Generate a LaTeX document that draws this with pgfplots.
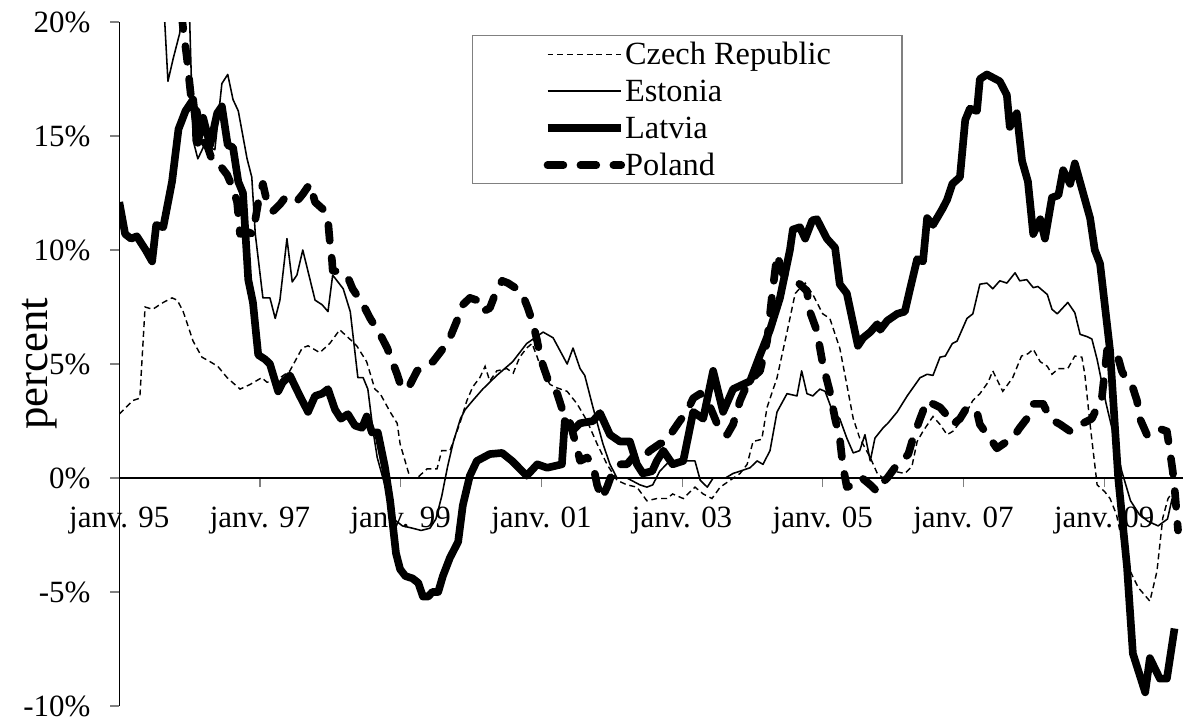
\documentclass[border=0pt]{standalone}
\usepackage{fontspec}
\setmainfont{Liberation Serif}
\usepackage{pgfplots}
\pgfplotsset{compat=1.18}
\begin{document}
\begin{tikzpicture}
\useasboundingbox (0,0) rectangle (420pt,254.4pt);
\begin{axis}[
  at={(42.03pt,5.64pt)}, anchor=south west,
  scale only axis, width=374.8pt, height=241pt,
  xmin=0, xmax=181.45, ymin=-10, ymax=20,
  axis x line=middle, axis y line=left,
  axis line style={-, black, line width=0.4pt},
  hide obscured x ticks=false,
  hide obscured y ticks=false,
  xtick={0,24,...,168},
  xticklabels={janv. 95,janv. 97,janv. 99,janv. 01,janv. 03,janv. 05,janv. 07,janv. 09},
  ytick={-10,-5,...,20},
  yticklabel={\pgfmathprintnumber{\tick}\%},
  /pgf/number format/assume math mode=true,
  tick align=outside,
  major tick length=3.2pt,
  tick style={gray, line width=0.4pt},
  tick label style={font=\fontsize{10.9pt}{13pt}\selectfont},
  xticklabel style={anchor=north, inner sep=0pt, yshift=-6.8pt},
  yticklabel style={anchor=east, inner sep=0pt, xshift=-6.8pt},
  ylabel={percent},
  every axis y label/.style={at={(axis description cs:-0.0745,0.5)}, rotate=90, anchor=center, font=\fontsize{15.8pt}{18pt}\selectfont},
  legend style={at={(axis description cs:0.3316,0.981)}, anchor=north west, draw=gray, fill=white, line width=0.5pt, inner xsep=25pt, inner ysep=0pt, font=\fontsize{11.4pt}{13pt}\selectfont, row sep=0pt, nodes={inner sep=0pt, text height=10.22pt, text depth=2.82pt}},
  legend cell align=left,
  legend image code/.code={\draw[#1] (0pt,0pt) -- (26pt,0pt);},
]
\addplot[black, line width=0.5pt, dash pattern=on 2.1pt off 1.35pt] coordinates {
(0,2.8)(2.3,3.4)(3.5,3.5)(4.4,7.5)(5.7,7.4)(7.5,7.7)(9.0,7.9)(9.9,7.8)(10.9,7.3)(12.6,6.0)(14.1,5.3)(15.5,5.1)(16.8,4.9)(18.4,4.4)(20.6,3.9)(22.3,4.1)(24.3,4.4)(25.2,4.2)(26.9,4.3)(29.1,4.7)(31.2,5.7)(32.2,5.8)(34.2,5.5)(35.9,5.9)(37.6,6.5)(39.3,6.1)(40.5,5.8)(42.2,5.1)(43.6,3.9)(44.5,3.7)(46.2,2.9)(47.4,2.4)(47.9,1.5)(49.6,0.0)(50.8,0.0)(52.5,0.4)(54.2,0.4)(55.0,1.2)(56.4,1.2)(58.1,2.4)(59.3,3.4)(60.3,4.0)(61.5,4.4)(62.4,4.9)(63.2,4.25)(64.4,4.7)(66.1,4.8)(67.2,4.6)(68.3,5.3)(69.5,5.7)(70.4,5.9)(71.3,5.3)(72.3,4.55)(73.5,4.1)(74.7,3.95)(76.4,3.8)(78.1,3.25)(79.8,2.5)(81.5,1.5)(83.2,0.6)(84.9,-0.1)(86.6,-0.3)(88.3,-0.4)(90.0,-1.0)(91.7,-0.9)(93.4,-0.9)(94.4,-0.7)(96.2,-0.9)(98.2,-0.4)(99.6,-0.7)(101.1,-0.9)(102.5,-0.4)(104.2,-0.1)(105.9,0.2)(107.1,0.6)(108.1,1.6)(109.6,1.7)(110.5,3.1)(112.2,4.4)(113.9,6.4)(115.3,8.1)(117.0,8.55)(118.3,8.05)(120.0,7.2)(121.2,7.0)(122.9,5.7)(124.1,4.1)(125.2,2.6)(126.3,1.75)(128.1,0.9)(129.3,0.2)(130.3,0.0)(132.0,0.3)(134.0,0.2)(135.2,0.5)(136.1,1.6)(137.1,2.05)(138.8,2.7)(140.0,2.35)(141.2,1.9)(142.2,2.05)(143.9,2.6)(145.6,3.4)(146.8,3.7)(148.2,4.2)(149.0,4.7)(150.7,3.8)(152.4,4.4)(153.9,5.35)(155.0,5.45)(155.9,5.65)(157.1,5.1)(158.3,4.9)(159.1,4.55)(160.2,4.8)(161.8,4.8)(163.0,5.35)(164.2,5.3)(164.7,4.55)(165.6,2.35)(166.8,-0.3)(168.1,-0.6)(169.0,-0.9)(170.1,-1.6)(171.9,-3.8)(173.8,-4.8)(175.8,-5.4)(177.0,-4.1)(178.0,-1.75)(178.9,-0.9)(179.7,-0.6)
};
\addlegendentry{Czech Republic}
\addplot[black, line width=0.55pt, line join=round] coordinates {
(0,30)(3,28)(6.5,26)(8.3,17.4)(9.2,18.4)(10.3,19.5)(11.2,21.5)(11.9,21.0)(12.6,14.8)(13.4,14.0)(14.5,14.6)(16.3,14.4)(17.5,17.3)(18.5,17.7)(19.4,16.6)(20.3,16.1)(21.8,14.0)(22.6,13.2)(23.2,10.7)(24.5,7.9)(25.7,7.9)(26.6,7.0)(27.4,7.8)(28.6,10.5)(29.5,8.6)(30.3,8.9)(31.3,10.0)(33.4,7.8)(34.6,7.6)(35.6,7.3)(36.4,8.9)(38.2,8.3)(39.4,7.3)(40.7,4.4)(41.6,4.4)(42.4,3.9)(43.3,2.05)(44.0,0.9)(45.5,-0.5)(46.8,-1.8)(48.3,-2.1)(50.0,-2.2)(51.5,-2.3)(53.0,-2.2)(54.0,-1.8)(55.0,-0.8)(56.0,0.5)(57.0,1.6)(58.2,2.6)(59.0,3.0)(60.3,3.4)(62.0,3.9)(64.4,4.5)(67.1,5.1)(69.5,5.9)(72.3,6.4)(74.0,6.15)(76.4,5.0)(77.4,5.7)(78.6,4.8)(79.4,4.5)(80.8,3.1)(82.5,1.5)(83.7,0.6)(84.9,0.0)(86.6,0.0)(88.8,-0.3)(90.0,-0.4)(91.0,-0.3)(92.2,0.3)(93.9,0.75)(95.6,0.75)(98.2,0.75)(99.1,-0.1)(100.3,-0.4)(101.3,0.0)(103.4,0.0)(104.7,0.2)(105.9,0.3)(107.6,0.45)(108.8,0.75)(109.8,0.6)(111.0,1.2)(112.2,2.9)(113.9,3.7)(115.6,3.6)(116.4,4.7)(117.3,3.7)(118.3,3.6)(119.5,3.9)(120.4,3.8)(121.7,2.9)(122.9,2.6)(124.1,1.75)(125.2,1.1)(126.3,1.2)(127.2,1.9)(128.1,0.75)(128.9,1.75)(130.3,2.2)(131.1,2.4)(132.7,2.9)(134.4,3.6)(136.6,4.4)(137.8,4.55)(138.8,4.5)(140.0,5.3)(140.9,5.35)(142.1,5.9)(142.9,6.0)(144.6,7.0)(145.6,7.2)(146.8,8.5)(148.0,8.55)(149.0,8.3)(150.2,8.65)(151.4,8.55)(152.8,9.0)(153.6,8.65)(154.8,8.7)(155.9,8.35)(156.7,8.4)(158.3,8.05)(159.1,7.4)(160.0,7.2)(161.8,7.7)(163.0,7.25)(163.9,6.3)(165.1,6.2)(165.9,6.1)(166.8,5.2)(168.3,3.3)(169.5,2.0)(171.0,0.3)(172.5,-1.0)(174.0,-1.6)(175.5,-1.9)(177.2,-2.1)(178.8,-1.8)(179.6,-0.9)
};
\addlegendentry{Estonia}
\addplot[black, line width=2.7pt, line join=round] coordinates {
(0,12.1)(1.0,10.7)(2.0,10.5)(3.0,10.6)(4.5,10.0)(5.6,9.5)(6.3,11.1)(7.5,11.0)(9.0,13.0)(10.1,15.3)(11.3,16.1)(12.6,16.6)(13.4,14.7)(14.3,15.8)(15.5,14.6)(16.7,16.0)(17.5,16.3)(18.5,14.6)(19.4,14.5)(20.3,13.0)(21.1,12.5)(22.0,8.7)(22.8,7.7)(23.7,5.4)(24.9,5.2)(25.7,5.0)(27.1,3.8)(27.9,4.2)(29.1,4.5)(30.8,3.6)(32.2,2.9)(33.4,3.6)(34.6,3.7)(35.6,3.9)(36.8,3.0)(37.8,2.6)(39.0,2.8)(40.2,2.3)(41.4,2.2)(42.2,2.7)(43.1,2.0)(44.1,2.0)(45.3,0.5)(46.2,-1.0)(47.2,-3.3)(47.9,-4.0)(48.8,-4.3)(50.0,-4.4)(51.0,-4.6)(51.8,-5.2)(52.7,-5.2)(53.4,-5.0)(54.4,-5.0)(55.2,-4.3)(56.4,-3.5)(57.8,-2.8)(58.6,-1.2)(59.8,0.1)(61.0,0.75)(63.2,1.05)(65.3,1.1)(67.0,0.75)(69.5,0.1)(71.3,0.6)(73.0,0.45)(75.5,0.6)(76.0,2.5)(77.4,2.1)(78.6,2.4)(80.8,2.5)(82.0,2.85)(83.7,1.9)(85.4,1.6)(87.1,1.6)(88.3,0.6)(89.3,0.2)(90.9,0.3)(91.7,0.75)(92.8,1.2)(94.4,0.6)(96.2,0.75)(97.9,2.9)(99.6,2.6)(101.3,4.7)(103.0,2.9)(104.7,3.9)(107.6,4.25)(109.3,5.4)(111.0,6.5)(112.7,7.9)(114.4,10.0)(114.9,10.9)(116.1,11.0)(117.0,10.5)(118.2,11.3)(119.0,11.35)(120.7,10.5)(122.1,10.1)(122.9,8.5)(124.1,8.1)(126.0,5.8)(126.9,6.15)(128.1,6.4)(129.3,6.75)(129.8,6.5)(131.0,6.9)(132.7,7.2)(134.0,7.3)(134.9,8.3)(136.1,9.6)(137.1,9.5)(137.8,11.4)(138.8,11.1)(140.4,11.8)(141.2,12.2)(142.1,12.9)(143.4,13.2)(144.3,15.7)(145.1,16.2)(146.3,16.1)(146.8,17.5)(148.0,17.7)(150.2,17.4)(151.4,16.8)(151.9,15.4)(153.1,16.0)(154.0,13.9)(155.0,13.0)(155.9,10.7)(157.1,11.35)(157.9,10.5)(159.1,12.3)(160.2,12.4)(161.0,13.5)(162.2,12.9)(163.0,13.8)(165.6,11.4)(166.4,10.0)(167.3,9.4)(169.0,5.6)(170.4,0.0)(171.9,-3.9)(172.9,-7.7)(175.0,-9.4)(175.8,-7.9)(177.5,-8.8)(178.7,-8.8)(180.0,-6.6)
};
\addlegendentry{Latvia}
\addplot[black, line width=2.7pt, dash pattern=on 5.6pt off 6pt, line cap=round, line join=round] coordinates {
(0,33)(5,30)(9.5,23)(10.9,19.7)(11.5,18.5)(12.2,16.8)(13.2,16.1)(14.3,14.8)(15.1,14.5)(16.0,13.8)(17.5,13.6)(18.4,13.3)(19.4,12.7)(20.1,12.1)(20.6,10.7)(21.8,10.8)(22.8,10.7)(23.7,12.1)(24.5,12.9)(25.2,12.1)(26.2,11.7)(27.4,12.0)(28.3,12.3)(29.5,12.1)(30.5,12.2)(31.3,12.45)(32.5,12.9)(33.4,12.1)(34.7,11.8)(35.6,11.3)(35.9,10.4)(36.3,9.5)(36.4,9.1)(38.2,9.0)(39.0,8.8)(39.8,8.3)(41.6,7.6)(42.8,7.0)(44.5,6.3)(45.7,5.7)(47.4,4.55)(48.2,3.9)(49.6,4.1)(50.8,4.7)(52.5,5.0)(53.5,5.1)(55.0,5.6)(56.4,6.15)(57.6,6.9)(58.6,7.6)(59.8,7.9)(61.0,7.8)(62.0,7.3)(63.2,7.45)(64.1,8.05)(65.3,8.65)(66.3,8.55)(67.5,8.35)(68.7,8.1)(69.7,7.45)(70.6,6.75)(71.3,6.0)(71.8,5.3)(73.0,4.4)(73.5,4.1)(74.7,3.7)(75.7,2.9)(76.9,2.4)(78.1,1.3)(78.6,0.75)(79.8,0.9)(80.8,0.6)(81.5,-0.3)(82.3,-0.9)(83.2,-0.4)(84.2,0.3)(85.4,0.6)(86.6,0.6)(87.6,0.9)(89.3,0.9)(90.5,1.2)(92.2,1.5)(93.4,1.6)(94.4,2.05)(95.6,2.5)(96.8,2.9)(97.9,3.5)(99.1,3.7)(100.3,3.4)(101.3,2.8)(102.5,2.05)(103.7,1.9)(104.7,2.35)(105.9,3.4)(107.1,4.1)(108.1,4.4)(109.3,4.7)(110.5,6.0)(111.3,7.9)(112.2,9.8)(113.2,8.95)(114.9,8.7)(116.1,8.5)(117.3,8.2)(117.8,7.3)(119.0,6.45)(120.0,5.0)(121.2,3.8)(122.1,2.6)(122.9,1.75)(123.4,0.6)(124.1,-0.4)(125.2,-0.3)(126.7,0.0)(128.1,-0.3)(129.3,-0.6)(129.8,-0.3)(131.0,0.0)(132.3,0.45)(133.5,0.75)(134.6,1.05)(135.4,1.75)(136.6,2.6)(137.8,3.4)(138.8,3.25)(140.0,3.1)(141.7,2.6)(142.2,2.35)(143.4,2.6)(144.6,3.1)(146.3,2.9)(146.8,2.35)(148.5,1.75)(149.7,1.3)(151.4,1.6)(152.4,1.75)(153.6,2.2)(154.8,2.6)(155.9,3.25)(157.6,3.25)(158.8,2.6)(160.5,2.35)(162.2,2.05)(163.4,2.2)(164.4,2.4)(165.9,2.6)(166.8,3.1)(167.6,3.5)(168.5,5.6)(169.5,5.7)(170.2,5.45)(171.0,4.7)(171.9,4.25)(172.9,3.95)(173.6,3.4)(174.1,2.6)(175.3,1.9)(177.0,2.2)(178.7,2.05)(179.2,1.2)(179.7,0.3)(180.1,-0.7)(180.6,-2.3)
};
\addlegendentry{Poland}
\end{axis}
\end{tikzpicture}
\end{document}
